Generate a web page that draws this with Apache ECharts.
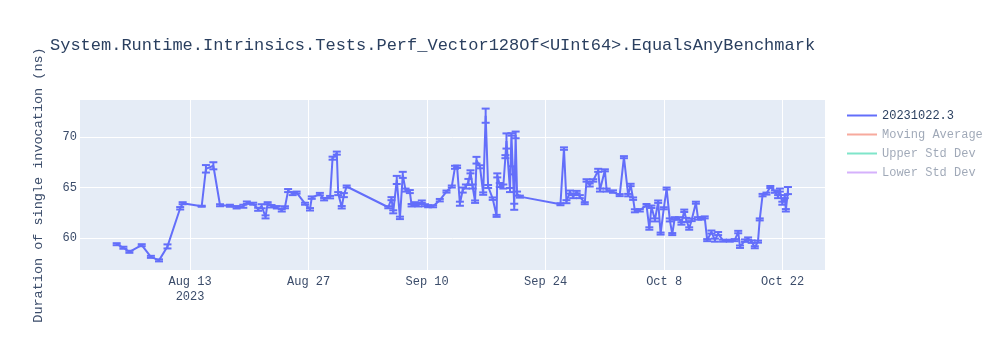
<!DOCTYPE html>
<html>
<head>
<meta charset="utf-8">
<script src="https://cdn.jsdelivr.net/npm/echarts@6/dist/echarts.min.js"></script>
<style>
  html, body { margin: 0; padding: 0; background: #ffffff; }
  #chart { width: 1000px; height: 350px; }
</style>
</head>
<body>
<div id="chart"></div>
<script>
// Benchmark run timestamps (UTC) and measured durations in ns, with std error
const runDates = [
  '2023-08-04 08:00','2023-08-05 03:00','2023-08-05 20:00','2023-08-07 07:00','2023-08-08 09:00',
  '2023-08-09 08:00','2023-08-10 08:00','2023-08-11 20:00','2023-08-12 03:00','2023-08-14 09:00',
  '2023-08-14 21:00','2023-08-15 18:00','2023-08-16 13:00','2023-08-17 17:00','2023-08-18 12:00',
  '2023-08-19 07:00','2023-08-19 17:00','2023-08-20 11:00','2023-08-21 01:00','2023-08-21 11:00',
  '2023-08-21 22:00','2023-08-22 04:00','2023-08-22 15:00','2023-08-23 06:00','2023-08-23 20:00',
  '2023-08-24 05:00','2023-08-24 14:00','2023-08-25 03:00','2023-08-25 14:00','2023-08-26 14:00',
  '2023-08-27 04:00','2023-08-27 09:00','2023-08-28 08:00','2023-08-28 20:00','2023-08-29 13:00',
  '2023-08-29 20:00','2023-08-30 08:00','2023-08-30 12:00','2023-08-30 22:00','2023-08-31 04:00',
  '2023-08-31 12:00','2023-09-05 10:00','2023-09-05 19:00','2023-09-06 00:00','2023-09-06 10:00',
  '2023-09-06 19:00','2023-09-07 03:00','2023-09-07 11:00','2023-09-07 23:00','2023-09-08 04:00',
  '2023-09-08 13:00','2023-09-08 23:00','2023-09-09 09:00','2023-09-09 18:00','2023-09-10 03:00',
  '2023-09-10 17:00','2023-09-11 12:00','2023-09-12 07:00','2023-09-12 22:00','2023-09-13 07:00',
  '2023-09-13 13:00','2023-09-13 21:00','2023-09-14 05:00','2023-09-14 14:00','2023-09-14 21:00',
  '2023-09-15 03:00','2023-09-15 09:00','2023-09-15 16:00','2023-09-15 20:00','2023-09-16 06:00',
  '2023-09-16 15:00','2023-09-16 22:00','2023-09-17 05:00','2023-09-17 18:00','2023-09-18 05:00',
  '2023-09-18 07:00','2023-09-18 14:00','2023-09-19 00:00','2023-09-19 06:00','2023-09-19 09:00',
  '2023-09-19 19:00','2023-09-19 23:00','2023-09-20 03:00','2023-09-20 07:00','2023-09-20 11:00',
  '2023-09-20 15:00','2023-09-20 23:00','2023-09-25 18:00','2023-09-26 04:00','2023-09-26 11:00',
  '2023-09-26 21:00','2023-09-27 06:00','2023-09-27 16:00','2023-09-28 01:00','2023-09-28 15:00',
  '2023-09-28 20:00','2023-09-29 05:00','2023-09-29 15:00','2023-09-30 05:00','2023-09-30 10:00',
  '2023-10-01 00:00','2023-10-01 05:00','2023-10-01 23:00','2023-10-02 18:00','2023-10-03 06:00',
  '2023-10-03 18:00','2023-10-04 01:00','2023-10-04 08:00','2023-10-04 13:00','2023-10-05 03:00',
  '2023-10-05 22:00','2023-10-06 06:00','2023-10-06 12:00','2023-10-06 22:00','2023-10-07 07:00',
  '2023-10-07 14:00','2023-10-07 23:00','2023-10-08 07:00','2023-10-08 16:00','2023-10-08 23:00',
  '2023-10-09 06:00','2023-10-09 18:00','2023-10-10 01:00','2023-10-10 09:00','2023-10-10 15:00',
  '2023-10-10 23:00','2023-10-11 06:00','2023-10-11 18:00','2023-10-12 00:00','2023-10-12 10:00',
  '2023-10-12 19:00','2023-10-13 02:00','2023-10-13 14:00','2023-10-14 00:00','2023-10-14 09:00',
  '2023-10-14 23:00','2023-10-15 18:00','2023-10-16 08:00','2023-10-16 18:00','2023-10-16 23:00',
  '2023-10-17 13:00','2023-10-17 22:00','2023-10-18 08:00','2023-10-18 17:00','2023-10-19 02:00',
  '2023-10-19 07:00','2023-10-19 15:00','2023-10-20 02:00','2023-10-20 13:00','2023-10-21 02:00',
  '2023-10-21 11:00','2023-10-21 16:00','2023-10-21 23:00','2023-10-22 06:00','2023-10-22 09:00',
  '2023-10-22 15:00'
];
const durations = [
  59.4, 59.05, 58.65, 59.3, 58.15,
  57.8, 59.18, 62.95, 63.45, 63.15,
  66.85, 67.15, 63.25, 63.2, 63.05,
  63.15, 63.5, 63.4, 62.85, 63.15,
  62.1, 63.45, 63.15, 63.05, 62.75,
  63.05, 64.7, 64.4, 64.5, 63.4,
  62.85, 64.0, 64.35, 63.85, 64.05,
  67.9, 68.4, 64.4, 63.05, 64.25,
  65.1, 63.05, 63.9, 62.6, 65.75,
  62.0, 66.25, 64.75, 64.6, 63.25,
  63.4, 63.25, 63.6, 63.25, 63.15,
  63.15, 63.75, 64.6, 65.1, 67.0,
  67.05, 63.4, 64.75, 65.1, 65.55,
  66.55, 65.1, 63.6, 67.7, 67.05,
  64.4, 72.1, 65.1, 63.9, 62.2,
  66.2, 65.25, 65.1, 68.05, 69.6,
  64.75, 70.25, 66.7, 63.1, 70.2,
  64.4, 64.1, 63.35, 68.85, 63.6,
  64.55, 64.1, 64.55, 64.1, 63.45,
  65.7, 65.25, 65.7, 66.7, 64.75,
  66.7, 64.75, 64.6, 64.25, 68.0,
  64.25, 65.25, 63.9, 62.7, 62.75,
  63.25, 60.95, 63.1, 61.8, 63.6,
  60.45, 62.95, 64.9, 61.8, 60.4,
  61.95, 61.95, 61.45, 62.7, 61.8,
  60.95, 61.8, 63.5, 61.95, 61.95,
  62.05, 59.8, 60.6, 59.8, 60.45,
  59.75, 59.75, 59.8, 60.6, 59.15,
  59.75, 59.95, 59.65, 59.1, 59.65,
  61.85, 64.25, 64.4, 65.05, 64.6,
  64.1, 64.75, 63.45, 64.1, 62.75,
  64.7
];
const errors = [
  0.1, 0.1, 0.1, 0.1, 0.1,
  0.1, 0.2, 0.12, 0.1, 0.05,
  0.37, 0.35, 0.1, 0.1, 0.12,
  0.15, 0.12, 0.1, 0.15, 0.2,
  0.15, 0.1, 0.12, 0.12, 0.12,
  0.1, 0.15, 0.15, 0.1, 0.1,
  0.12, 0.12, 0.12, 0.12, 0.12,
  0.15, 0.15, 0.15, 0.12, 0.2,
  0.1, 0.1, 0.15, 0.15, 0.4,
  0.12, 0.3, 0.15, 0.15, 0.12,
  0.15, 0.12, 0.12, 0.1, 0.1,
  0.1, 0.12, 0.1, 0.1, 0.15,
  0.12, 0.2, 0.25, 0.2, 0.3,
  0.15, 0.2, 0.12, 0.33, 0.15,
  0.12, 0.7, 0.15, 0.12, 0.1,
  0.2, 0.2, 0.2, 0.15, 0.75,
  0.2, 0.12, 0.4, 0.3, 0.33,
  0.2, 0.1, 0.1, 0.12, 0.15,
  0.15, 0.15, 0.12, 0.15, 0.1,
  0.12, 0.15, 0.12, 0.15, 0.15,
  0.1, 0.15, 0.12, 0.1, 0.1,
  0.12, 0.12, 0.12, 0.15, 0.12,
  0.12, 0.12, 0.12, 0.15, 0.12,
  0.1, 0.1, 0.1, 0.15, 0.1,
  0.12, 0.12, 0.12, 0.12, 0.2,
  0.12, 0.12, 0.1, 0.12, 0.12,
  0.1, 0.1, 0.15, 0.15, 0.15,
  0.1, 0.1, 0.1, 0.12, 0.12,
  0.12, 0.12, 0.12, 0.1, 0.1,
  0.1, 0.12, 0.1, 0.1, 0.12,
  0.15, 0.15, 0.15, 0.15, 0.12,
  0.35
];
// Statistic overlays are toggled off in the legend, so they carry no points
const movingAverage = [];
const upperStdDev = [];
const lowerStdDev = [];

const xTickDates = ['2023-08-13', '2023-08-27', '2023-09-10', '2023-09-24', '2023-10-08', '2023-10-22'];
const xTickLabels = ['Aug 13\n2023', 'Aug 27', 'Sep 10', 'Sep 24', 'Oct 8', 'Oct 22'];
const yTicks = [60, 65, 70];

const FONT = '"Liberation Mono", "Courier New", monospace';
const TEXT = '#2a3f5f';
const TICK = '#3b4c6a';
const MAIN = '#636efa';

function toMs(s) {
  const m = s.match(/(\d+)-(\d+)-(\d+)(?: (\d+):(\d+))?/);
  return Date.UTC(+m[1], +m[2] - 1, +m[3], +(m[4] || 0), +(m[5] || 0));
}

const tickMs = xTickDates.map(toMs);
const lineData = runDates.map((d, i) => [toMs(d), durations[i]]);
const errData = runDates.map((d, i) => [toMs(d), durations[i], errors[i]]);

const chart = echarts.init(document.getElementById('chart'), null, { renderer: 'canvas' });

chart.setOption({
  animation: false,
  backgroundColor: '#ffffff',
  textStyle: { fontFamily: FONT },
  title: {
    text: 'System.Runtime.Intrinsics.Tests.Perf_Vector128Of<UInt64>.EqualsAnyBenchmark',
    left: 50,
    top: 37,
    padding: 0,
    textStyle: { fontFamily: FONT, fontSize: 17, fontWeight: 'normal', color: TEXT }
  },
  legend: {
    orient: 'vertical',
    left: 847,
    top: 106,
    padding: 0,
    itemWidth: 30,
    itemHeight: 2,
    itemGap: 0,
    icon: 'rect',
    textStyle: { fontFamily: FONT, fontSize: 12, color: TEXT, lineHeight: 19 },
    data: [
      { name: '20231022.3' },
      { name: 'Moving Average', itemStyle: { color: 'rgba(239,85,59,0.5)' }, textStyle: { color: 'rgba(42,63,95,0.45)' } },
      { name: 'Upper Std Dev', itemStyle: { color: 'rgba(0,204,150,0.5)' }, textStyle: { color: 'rgba(42,63,95,0.45)' } },
      { name: 'Lower Std Dev', itemStyle: { color: 'rgba(171,99,250,0.5)' }, textStyle: { color: 'rgba(42,63,95,0.45)' } }
    ]
  },
  grid: {
    left: 80, right: 175, top: 100, bottom: 80,
    show: true, backgroundColor: '#e5ecf6', borderWidth: 0
  },
  xAxis: {
    type: 'value',
    min: toMs('2023-07-31'),
    max: toMs('2023-10-27'),
    axisLine: { show: false },
    axisTick: { show: false, customValues: tickMs },
    splitLine: { show: true, lineStyle: { color: '#ffffff', width: 1 } },
    axisLabel: {
      customValues: tickMs,
      margin: 4,
      color: TICK,
      fontFamily: FONT,
      fontSize: 12,
      lineHeight: 15,
      hideOverlap: false,
      formatter: v => xTickLabels[tickMs.indexOf(v)] ?? ''
    }
  },
  yAxis: {
    type: 'value',
    min: 56.85,
    max: 73.65,
    name: 'Duration of single invocation (ns)',
    nameLocation: 'middle',
    nameRotate: 90,
    nameGap: 35,
    nameTextStyle: { fontFamily: FONT, fontSize: 13.5, color: TICK },
    axisLine: { show: false },
    axisTick: { show: false, customValues: yTicks },
    splitLine: { show: true, lineStyle: { color: '#ffffff', width: 1 } },
    axisLabel: {
      customValues: yTicks,
      margin: 3,
      color: TICK,
      fontFamily: FONT,
      fontSize: 12
    }
  },
  series: [
    {
      name: '20231022.3',
      type: 'line',
      data: lineData,
      color: MAIN,
      showSymbol: false,
      symbol: 'none',
      lineStyle: { width: 2, color: MAIN },
      z: 3
    },
    {
      name: '20231022.3',
      type: 'custom',
      data: errData,
      encode: { x: 0, y: 1 },
      z: 3,
      renderItem: function (params, api) {
        const x = api.value(0), v = api.value(1), e = api.value(2);
        const hi = api.coord([x, v + e]);
        const lo = api.coord([x, v - e]);
        const w = 4;
        const st = { stroke: MAIN, lineWidth: 2 };
        return {
          type: 'group',
          children: [
            { type: 'line', shape: { x1: hi[0], y1: hi[1], x2: lo[0], y2: lo[1] }, style: st },
            { type: 'line', shape: { x1: hi[0] - w, y1: hi[1], x2: hi[0] + w, y2: hi[1] }, style: st },
            { type: 'line', shape: { x1: lo[0] - w, y1: lo[1], x2: lo[0] + w, y2: lo[1] }, style: st }
          ]
        };
      }
    },
    { name: 'Moving Average', type: 'line', data: movingAverage, color: 'rgba(239,85,59,0.5)', showSymbol: false },
    { name: 'Upper Std Dev', type: 'line', data: upperStdDev, color: 'rgba(0,204,150,0.5)', showSymbol: false },
    { name: 'Lower Std Dev', type: 'line', data: lowerStdDev, color: 'rgba(171,99,250,0.5)', showSymbol: false }
  ]
});
</script>
</body>
</html>
